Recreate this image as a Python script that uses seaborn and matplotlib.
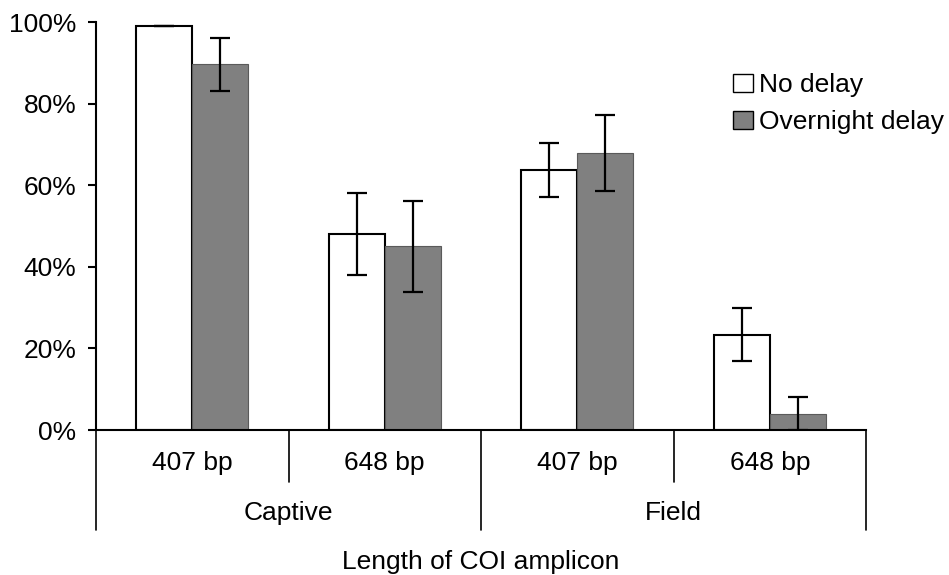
import matplotlib
matplotlib.use("Agg")
import matplotlib.pyplot as plt
import matplotlib.transforms as mtransforms
from matplotlib.lines import Line2D
import seaborn as sns
import pandas as pd
import numpy as np

# ---- data ----
sources = ["Captive", "Captive", "Field", "Field"]
lengths = ["407 bp", "648 bp", "407 bp", "648 bp"]
no_delay = [99.0, 48.0, 63.7, 23.4]
no_delay_err = [0.0, 10.0, 6.6, 6.6]
overnight = [89.6, 45.0, 68.0, 4.0]
overnight_err = [6.6, 11.1, 9.3, 4.0]
series = ["No delay", "Overnight delay"]
yticks = [0, 20, 40, 60, 80, 100]
xlabel = "Length of COI amplicon"

cats = [f"{s} {l}" for s, l in zip(sources, lengths)]
df = pd.DataFrame({
    "cat": cats * 2,
    "delay": [series[0]] * 4 + [series[1]] * 4,
    "value": no_delay + overnight,
    "err": no_delay_err + overnight_err,
})

FS = 19

sns.set_theme(style="white")
plt.rcParams["font.family"] = ["Liberation Sans", "DejaVu Sans"]
plt.rcParams["text.color"] = "black"
plt.rcParams["axes.labelcolor"] = "black"
plt.rcParams["xtick.color"] = "black"
plt.rcParams["ytick.color"] = "black"

fig = plt.figure(figsize=(9.49, 5.75), dpi=100)
ax = fig.add_axes([96 / 949, 145 / 575, 770 / 949, 408 / 575])

sns.barplot(data=df, x="cat", y="value", hue="delay", order=cats,
            hue_order=series, palette=["white", "#808080"], width=0.58,
            gap=0, errorbar=None, ax=ax, legend=True, saturation=1)

# style bars and error bars
bar_conts = list(ax.containers)
for i, cont in enumerate(bar_conts):
    sub = df[df["delay"] == series[i]].set_index("cat").loc[cats]
    errs = sub["err"].values
    vals = sub["value"].values
    for p in cont.patches:
        if i == 0:
            p.set_edgecolor("black")
            p.set_linewidth(1.5)
        else:
            p.set_edgecolor("#5a5a5a")
            p.set_linewidth(0.8)
    xs = [p.get_x() + p.get_width() / 2 for p in cont.patches]
    ax.errorbar(xs, vals, yerr=errs, fmt="none", ecolor="black",
                elinewidth=1.6, capsize=7, capthick=1.6, zorder=5)

ax.set_ylim(0, 100)
ax.set_xlim(-0.5, 3.5)
ax.set_yticks(yticks)
ax.set_yticklabels([f"{v}%" for v in yticks], fontsize=FS, color="black")
ax.tick_params(axis="y", direction="out", length=6, width=1.5, color="black",
               labelcolor="black", left=True, pad=8)
ax.set_xticks([])
ax.set_xlabel("")
ax.set_ylabel("")
for s in ["top", "right"]:
    ax.spines[s].set_visible(False)
for s in ["left", "bottom"]:
    ax.spines[s].set_color("black")
    ax.spines[s].set_linewidth(1.5)

trans = mtransforms.blended_transform_factory(ax.transData, ax.transAxes)
# category separators
for xb, depth in [(-0.5, -0.245), (0.5, -0.127), (1.5, -0.245),
                  (2.5, -0.127), (3.5, -0.245)]:
    ax.add_line(Line2D([xb, xb], [0, depth], transform=trans, color="black",
                       lw=1.2, clip_on=False))
for i, l in enumerate(lengths):
    ax.text(i, -0.081, l, transform=trans, ha="center", va="center",
            fontsize=FS, color="black")
groups = []
for i, s in enumerate(sources):
    if not groups or groups[-1][0] != s:
        groups.append([s, [i]])
    else:
        groups[-1][1].append(i)
for s, idx in groups:
    ax.text(np.mean(idx), -0.203, s, transform=trans, ha="center", va="center",
            fontsize=FS, color="black")
ax.text(0.5, -0.324, xlabel, transform=ax.transAxes, ha="center", va="center",
        fontsize=FS, color="black")

leg = ax.legend(loc="upper left", bbox_to_anchor=(733 / 949, 1 - 73 / 575),
                bbox_transform=fig.transFigure, frameon=False, fontsize=FS,
                handlelength=0.76, handleheight=0.68, handletextpad=0.23,
                labelspacing=0.5, borderpad=0, borderaxespad=0, title=None,
                labelcolor="black")
for h in leg.legend_handles:
    h.set_edgecolor("black")
    h.set_linewidth(1.0)

fig.savefig("out.png", dpi=100, facecolor="white")
